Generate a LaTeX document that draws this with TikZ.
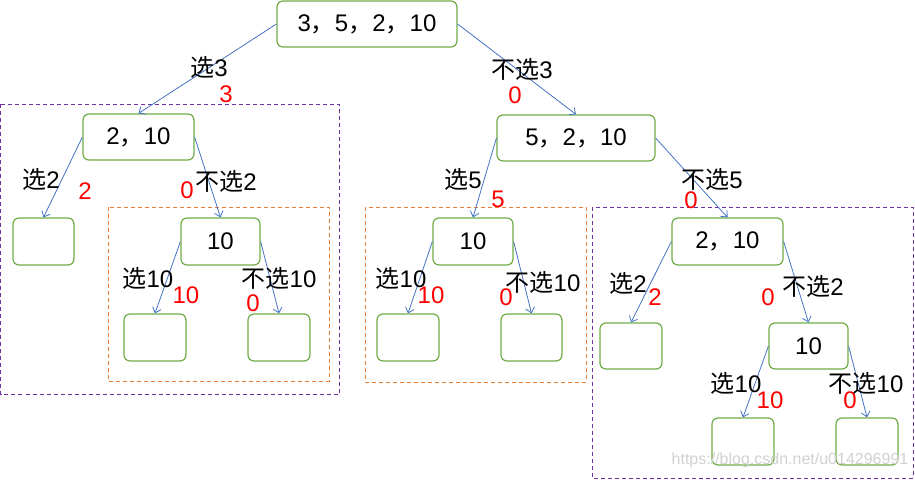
\documentclass[tikz,border=0pt]{standalone}
\usepackage{fontspec}
\setmainfont{Liberation Sans}
\newfontfamily\cjk{Noto Sans CJK SC}
\usepackage{tikz}
\usetikzlibrary{arrows.meta}
\tikzset{>={Straight Barb[length=5pt,width=9pt]}}

\definecolor{boxgreen}{HTML}{70AD47}
\definecolor{edgeblue}{HTML}{4472C4}
\definecolor{framepurple}{HTML}{7030A0}
\definecolor{frameorange}{HTML}{ED7D31}

\newcommand\xuan{{\cjk 选}}
\newcommand\buxuan{{\cjk 不选}}
\newcommand\dou{{\cjk ，}}

\tikzset{
  state/.style={draw=boxgreen, line width=1.2pt, rounded corners=6pt, fill=white,
    inner sep=0pt, font=\fontsize{24}{26}\selectfont},
  choice/.style={inner sep=0pt, font=\fontsize{24}{26}\selectfont},
  gain/.style={inner sep=0pt, text=red, font=\fontsize{24}{26}\selectfont},
  edge/.style={->, draw=edgeblue, line width=0.8pt},
  frame/.style={line width=0.8pt, dash pattern=on 4pt off 3pt}
}

\begin{document}
\begin{tikzpicture}[x=1pt, y=-1pt]

  \useasboundingbox (0,0) rectangle (915,479);

  %% dashed frames
  \draw[frame, framepurple] (0.5,104) rectangle (339,394);
  \draw[frame, frameorange] (108,207) rectangle (329,381);
  \draw[frame, frameorange] (365,207) rectangle (586,382);
  \draw[frame, framepurple] (592,207) rectangle (913,478);

  %% states
  \node[state, minimum width=180pt, minimum height=46pt] (root) at (367,24) {3\dou5\dou2\dou10};
  \node[state, minimum width=111pt, minimum height=46pt] (a) at (138.5,137) {2\dou10};
  \node[state, minimum width=158pt, minimum height=46pt] (b) at (576,138) {5\dou2\dou10};

  \node[state, minimum width=61pt, minimum height=47pt] (a1) at (43.5,241.5) {};
  \node[state, minimum width=79pt, minimum height=47pt] (a2) at (220.5,241.5) {10};
  \node[state, minimum width=62pt, minimum height=47pt] (a21) at (155,337.5) {};
  \node[state, minimum width=62pt, minimum height=47pt] (a22) at (279,337.5) {};

  \node[state, minimum width=80pt, minimum height=47pt] (b1) at (473,241.5) {10};
  \node[state, minimum width=62pt, minimum height=47pt] (b11) at (408,337.5) {};
  \node[state, minimum width=61pt, minimum height=47pt] (b12) at (531.5,337.5) {};

  \node[state, minimum width=111pt, minimum height=47pt] (b2) at (727.5,241.5) {2\dou10};
  \node[state, minimum width=62pt, minimum height=46pt] (b21) at (631,346) {};
  \node[state, minimum width=79pt, minimum height=46pt] (b22) at (808.5,346) {10};
  \node[state, minimum width=62pt, minimum height=47pt] (b221) at (743,441.5) {};
  \node[state, minimum width=62pt, minimum height=47pt] (b222) at (867,441.5) {};

  %% edges
  \draw[edge] (root.west) -- (a.north); %% root a
  \draw[edge] (root.east) -- (b.north); %% root b
  \draw[edge] (a.west) -- (a1.north); %% a a1
  \draw[edge] (a.east) -- (a2.north); %% a a2
  \draw[edge] (a2.west) -- (a21.north); %% a2 a21
  \draw[edge] (a2.east) -- (a22.north); %% a2 a22
  \draw[edge] (b.west) -- (b1.north); %% b b1
  \draw[edge] (b.east) -- (b2.north); %% b b2
  \draw[edge] (b1.west) -- (b11.north); %% b1 b11
  \draw[edge] (b1.east) -- (b12.north); %% b1 b12
  \draw[edge] (b2.west) -- (b21.north); %% b2 b21
  \draw[edge] (b2.east) -- (b22.north); %% b2 b22
  \draw[edge] (b22.west) -- (b221.north); %% b22 b221
  \draw[edge] (b22.east) -- (b222.north); %% b22 b222

  %% choice labels
  \node[choice] (l3) at (209,67) {\xuan 3};
  \node[choice] (n3) at (522,69) {\buxuan 3};
  \node[choice] (l2a) at (41,179) {\xuan 2};
  \node[choice] (n2a) at (226,181) {\buxuan 2};
  \node[choice] (l10a) at (148,278) {\xuan 10};
  \node[choice] (n10a) at (279,278) {\buxuan 10};
  \node[choice] (l5) at (463,179) {\xuan 5};
  \node[choice] (n5) at (712,179) {\buxuan 5};
  \node[choice] (l10b) at (401,278) {\xuan 10};
  \node[choice] (n10b) at (543,282) {\buxuan 10};
  \node[choice] (l2b) at (628,283) {\xuan 2};
  \node[choice] (n2b) at (813,286) {\buxuan 2};
  \node[choice] (l10c) at (736,383) {\xuan 10};
  \node[choice] (n10c) at (866,383) {\buxuan 10};

  %% gains
  \node[gain] (g3) at (226,94) {3};
  \node[gain] (g0a) at (515,95) {0};
  \node[gain] (g2a) at (85,191) {2};
  \node[gain] (g0b) at (187,190) {0};
  \node[gain] (g10a) at (186,295) {10};
  \node[gain] (g0c) at (253,303) {0};
  \node[gain] (g5) at (498,199) {5};
  \node[gain] (g0d) at (691,200) {0};
  \node[gain] (g10b) at (431,295) {10};
  \node[gain] (g0e) at (506,297) {0};
  \node[gain] (g2b) at (655,297) {2};
  \node[gain] (g0f) at (768,297) {0};
  \node[gain] (g10c) at (770,400) {10};
  \node[gain] (g0g) at (850,400) {0};

  \node[inner sep=0pt, text=black!18, font=\fontsize{16}{18}\selectfont] (mark) at (790,460) {https://blog.csdn.net/u014296991};

\end{tikzpicture}
\end{document}
